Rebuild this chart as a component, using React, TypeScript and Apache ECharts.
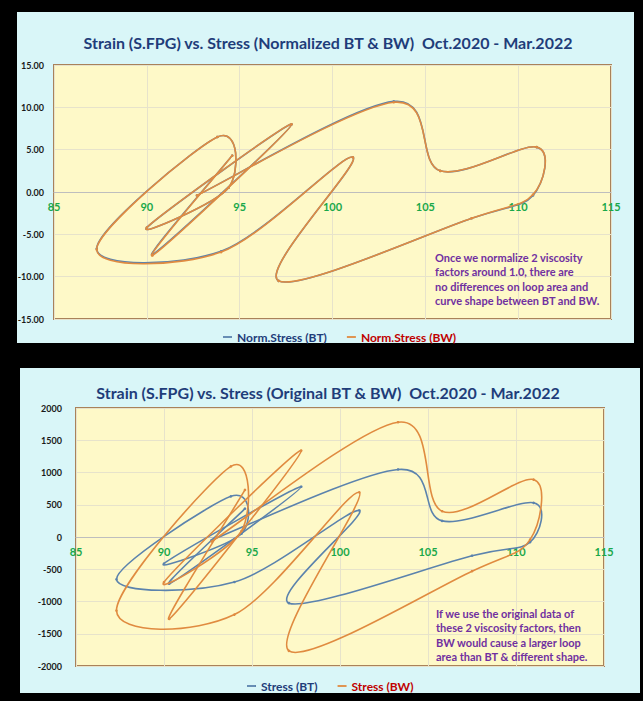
import React, { useEffect, useRef } from "react";
import * as echarts from "echarts";

// Strain (S.FPG) values, in time order
const strain = [92.7, 103.3, 105.8, 111.0, 110.8, 107.5, 97.1, 101.1, 94.0, 87.3, 93.8, 94.4, 90.0, 97.8, 90.3, 94.6];
// Normalized stress
const normBT = [-0.4, 10.7, 2.5, 5.3, -0.4, -3.1, -10.5, 4.1, -7.0, -6.7, 6.5, 0.5, -4.2, 8.0, -7.4, 4.3];
const normBW = [-0.4, 10.6, 2.5, 5.3, -0.3, -3.1, -10.5, 4.1, -7.1, -6.8, 6.5, 0.5, -4.2, 8.0, -7.5, 4.3];
// Original stress
const stressBT = [-47, 1047, 250, 530, -80, -290, -1026, 411, -698, -656, 630, 50, -411, 780, -724, 440];
const stressBW = [-70, 1780, 400, 890, -40, -530, -1766, 692, -1203, -1140, 1094, 90, -700, 1340, -1270, 730];

const titleTop = "Strain (S.FPG) vs. Stress (Normalized BT & BW)  Oct.2020 - Mar.2022";
const titleBottom = "Strain (S.FPG) vs. Stress (Original BT & BW)  Oct.2020 - Mar.2022";
const noteTop = [
  "Once we normalize 2 viscosity",
  "factors around 1.0, there are",
  "no differences on loop area and",
  "curve shape between BT and BW.",
];
const noteBottom = [
  "If we use the original data of",
  "these 2 viscosity factors, then",
  "BW would cause a larger loop",
  "area than BT & different shape.",
];

const BLUE = "#5B83AD";
const ORANGE = "#E08B40";
const FONT = "Lato, 'Open Sans', sans-serif";

function pairs(xs: number[], ys: number[]) {
  return xs.map((x, i) => [x, ys[i]]);
}

export default function App() {
  const ref = useRef<HTMLDivElement>(null);
  useEffect(() => {
    if (!ref.current) return;
    const chart = echarts.init(ref.current, undefined, { renderer: "svg" });
    const xAxisBase = (gridIndex: number, offset: number) => ({
      type: "value",
      gridIndex,
      min: 85,
      max: 115,
      interval: 5,
      position: "bottom",
      offset,
      axisLine: { show: true, onZero: false, lineStyle: { color: "#BEBEBE", width: 1.2 } },
      axisTick: { show: false },
      axisLabel: {
        color: "#19A84A",
        fontWeight: "bold",
        fontSize: 11,
        fontFamily: FONT,
        margin: 9,
      },
      splitLine: { show: true, lineStyle: { color: "#E7E3CB", width: 1 } },
    });
    // Excel-like smooth curve: Catmull-Rom segments through the data points,
    // positioned with the axes' own scales via api.coord.
    const curveSeries = (name: string, gi: number, ys: number[], color: string, z: number) => ({
      name,
      type: "custom",
      coordinateSystem: "cartesian2d",
      xAxisIndex: gi,
      yAxisIndex: gi,
      data: pairs(strain, ys),
      encode: { x: 0, y: 1 },
      itemStyle: { color },
      z,
      clip: true,
      renderItem: (params: any, api: any) => {
        const n = strain.length;
        const i = params.dataIndex;
        const pt = (j: number) => {
          const k = Math.max(0, Math.min(n - 1, j));
          return api.coord([strain[k], ys[k]]);
        };
        const p1 = pt(i);
        const children: any[] = [
          { type: "circle", shape: { cx: p1[0], cy: p1[1], r: 1.3 }, style: { fill: color }, z2: 2 },
        ];
        if (i < n - 1) {
          const p0 = pt(i - 1);
          const p2 = pt(i + 1);
          const p3 = pt(i + 2);
          const t = 1 / 6;
          children.push({
            type: "bezierCurve",
            shape: {
              x1: p1[0],
              y1: p1[1],
              x2: p2[0],
              y2: p2[1],
              cpx1: p1[0] + (p2[0] - p0[0]) * t,
              cpy1: p1[1] + (p2[1] - p0[1]) * t,
              cpx2: p2[0] - (p3[0] - p1[0]) * t,
              cpy2: p2[1] - (p3[1] - p1[1]) * t,
            },
            style: { stroke: color, lineWidth: 1.6, fill: "none" },
          });
        }
        return { type: "group", children };
      },
    });
    const noteTexts = (lines: string[], x: number, y: number) =>
      lines.map((t, i) => ({
        type: "text",
        x,
        y: y + i * 14.6,
        z: 10,
        style: {
          text: t,
          fill: "#7030A0",
          font: `bold 11px ${FONT}`,
          textVerticalAlign: "middle",
        },
      }));
    const legendIcon = "path://M0,4 L10,4 L10,6 L0,6 Z";
    const legendBase = {
      itemWidth: 9,
      itemHeight: 8,
      itemGap: 20,
      icon: legendIcon,
      textStyle: { fontWeight: "bold", fontSize: 12, fontFamily: FONT },
    };
    chart.setOption({
      animation: false,
      backgroundColor: "#000000",
      graphic: [
        { type: "rect", z: -1, shape: { x: 17, y: 12, width: 617, height: 331 }, style: { fill: "#D9F6F8" } },
        { type: "rect", z: -1, shape: { x: 20, y: 368, width: 620, height: 325 }, style: { fill: "#D9F6F8" } },
        {
          type: "text",
          x: 328,
          y: 42,
          z: 10,
          style: { text: titleTop, fill: "#1F3D7A", font: `bold 16px ${FONT}`, textAlign: "center", textVerticalAlign: "middle" },
        },
        {
          type: "text",
          x: 328,
          y: 392,
          z: 10,
          style: { text: titleBottom, fill: "#1F3D7A", font: `bold 16px ${FONT}`, textAlign: "center", textVerticalAlign: "middle" },
        },
        ...noteTexts(noteTop, 435, 257),
        ...noteTexts(noteBottom, 436, 613),
      ],
      legend: [
        {
          ...legendBase,
          left: 218,
          top: 326,
          data: [
            { name: "Norm.Stress (BT)", textStyle: { color: "#1F3D7A" } },
            { name: "Norm.Stress (BW)", textStyle: { color: "#C00000" } },
          ],
        },
        {
          ...legendBase,
          left: 242,
          top: 675,
          data: [
            { name: "Stress (BT)", textStyle: { color: "#1F3D7A" } },
            { name: "Stress (BW)", textStyle: { color: "#C00000" } },
          ],
        },
      ],
      grid: [
        {
          left: 54,
          top: 65,
          width: 557,
          height: 254,
          show: true,
          backgroundColor: "#FEF9C8",
          borderColor: "#A9825A",
          borderWidth: 2,
        },
        {
          left: 76,
          top: 408,
          width: 528,
          height: 258,
          show: true,
          backgroundColor: "#FEF9C8",
          borderColor: "#A9825A",
          borderWidth: 2,
        },
      ],
      xAxis: [xAxisBase(0, -127), xAxisBase(1, -129)],
      yAxis: [
        {
          type: "value",
          gridIndex: 0,
          min: -15,
          max: 15,
          interval: 5,
          axisLine: { show: false },
          axisTick: { show: false },
          axisLabel: {
            color: "#1A1A1A",
            fontWeight: "bold",
            fontSize: 9,
            fontFamily: FONT,
            margin: 10,
            formatter: (v: number) => v.toFixed(2),
          },
          splitLine: { show: true, lineStyle: { color: "#E7E3CB", width: 1 } },
        },
        {
          type: "value",
          gridIndex: 1,
          min: -2000,
          max: 2000,
          interval: 500,
          axisLine: { show: false },
          axisTick: { show: false },
          axisLabel: {
            color: "#1A1A1A",
            fontWeight: "bold",
            fontSize: 9,
            fontFamily: FONT,
            margin: 14,
            formatter: (v: number) => String(v),
          },
          splitLine: { show: true, lineStyle: { color: "#E7E3CB", width: 1 } },
        },
      ],
      series: [
        curveSeries("Norm.Stress (BT)", 0, normBT, BLUE, 2),
        curveSeries("Norm.Stress (BW)", 0, normBW, ORANGE, 3),
        curveSeries("Stress (BT)", 1, stressBT, BLUE, 2),
        curveSeries("Stress (BW)", 1, stressBW, ORANGE, 3),
      ],
    });
    return () => chart.dispose();
  }, []);
  return (
    <div
      ref={ref}
      style={{ position: "fixed", left: 0, top: 0, width: 643, height: 701, background: "#000" }}
    />
  );
}
